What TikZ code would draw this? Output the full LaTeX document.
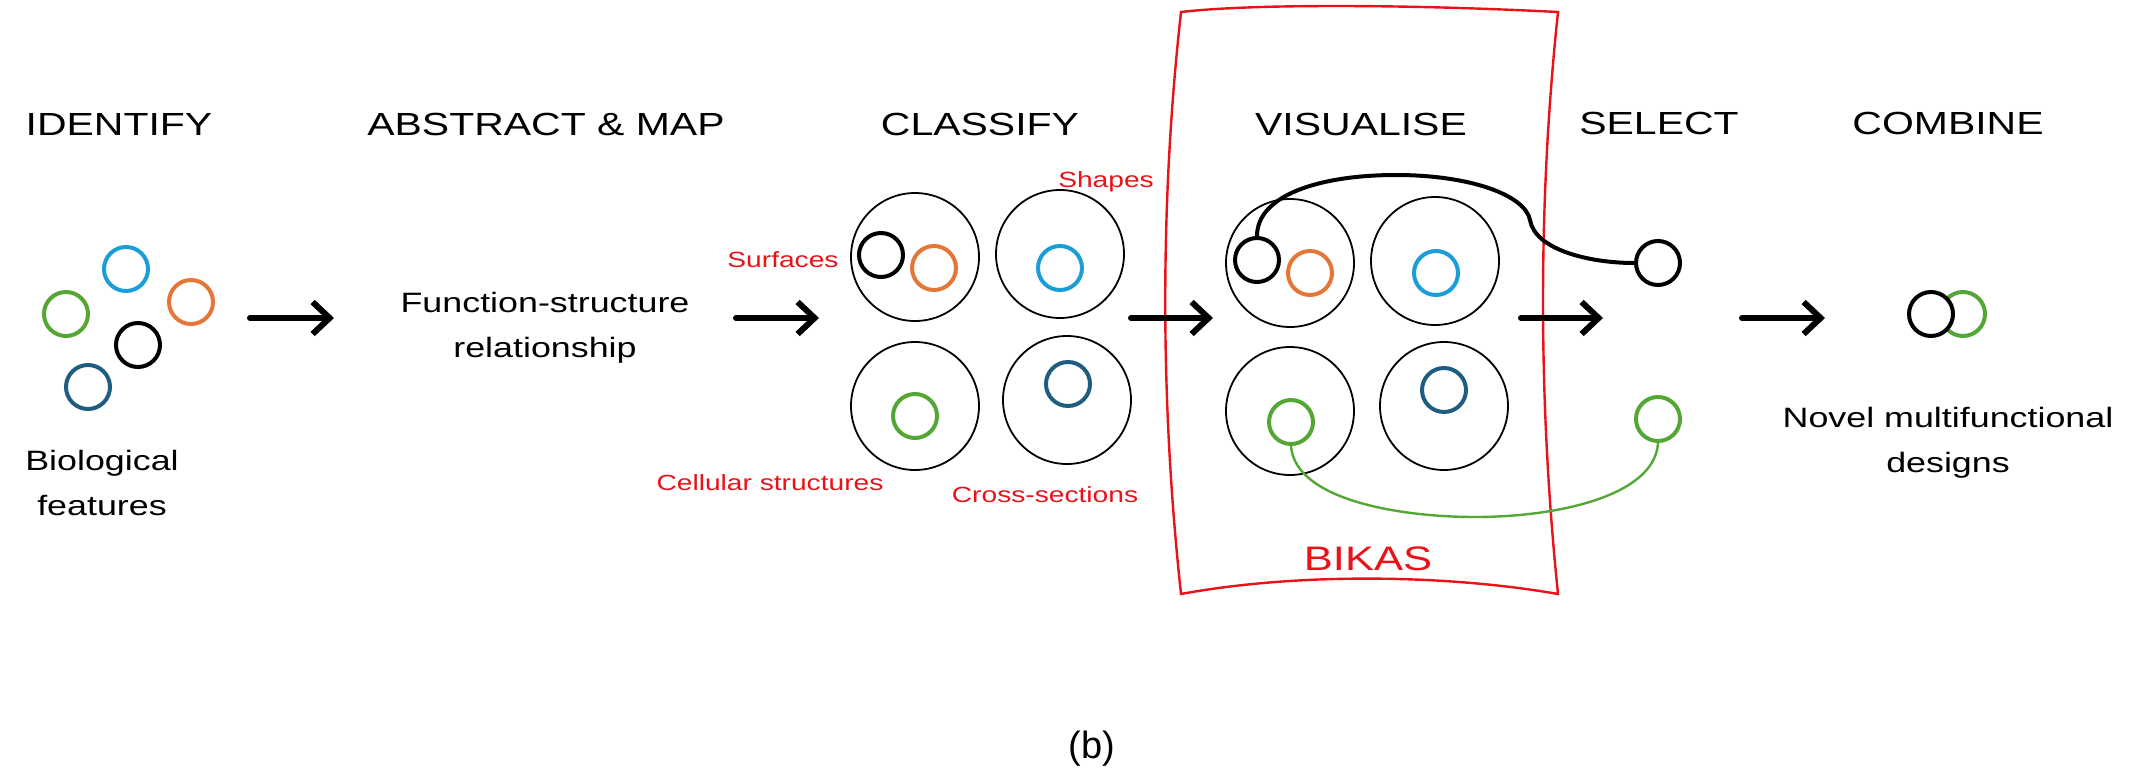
\documentclass[tikz,border=0pt]{standalone}
\usepackage{fontspec}
\setmainfont{Liberation Sans}
\newfontfamily\hand[FakeStretch=1.28]{Liberation Sans}
\usetikzlibrary{arrows.meta}
\definecolor{bioGreen}{RGB}{84,167,52}
\definecolor{bioCyan}{RGB}{27,158,215}
\definecolor{bioOrange}{RGB}{228,118,56}
\definecolor{bioNavy}{RGB}{30,92,128}
\definecolor{bioRed}{RGB}{232,18,24}
\begin{document}
\begin{tikzpicture}[x=0.5pt,y=-0.5pt,
		ring/.style={circle, draw=#1, line width=2pt, minimum size=22pt, inner sep=0pt},
		cell/.style={circle, draw, line width=0.9pt, minimum size=64pt, inner sep=0pt},
		head/.style={anchor=base, inner sep=0pt, font=\hand\fontsize{16}{19}\selectfont},
		body/.style={align=center, inner sep=0pt, font=\hand\fontsize{14}{22.5}\selectfont},
		tag/.style={anchor=base, inner sep=0pt, text=bioRed, font=\hand\fontsize{11}{13}\selectfont},
		flow/.style={line width=3pt, line cap=round, line join=round, -{Straight Barb[length=8.5pt,width=16pt]}}]
	\useasboundingbox (0,0) rectangle (2142,776);
	\draw[bioRed, line width=1.2pt] (1181,12) .. controls (1250,4) and (1400,4) .. (1558,12) .. controls (1538,200) and (1538,400) .. (1558,594) .. controls (1450,575) and (1300,572) .. (1181,594) .. controls (1160,400) and (1160,200) .. cycle;
	\node[head] (hId) at (119,135) {IDENTIFY};
	\node[head] (hAb) at (546,135) {ABSTRACT \& MAP};
	\node[head] (hCl) at (980,135) {CLASSIFY};
	\node[head] (hVi) at (1361,135) {VISUALISE};
	\node[head] (hSe) at (1659,134) {SELECT};
	\node[head] (hCo) at (1948,134) {COMBINE};
	\node[ring=bioGreen] (idG) at (66,314) {};
	\node[ring=bioCyan] (idC) at (126,269) {};
	\node[ring=bioOrange] (idO) at (191,302) {};
	\node[ring=black] (idK) at (138,345) {};
	\node[ring=bioNavy] (idN) at (88,387) {};
	\node[body] (bio) at (102,483) {Biological\\features};
	\node[body] (fsr) at (545,328) {Function-structure\\relationship};
	\node[cell] (cTL) at (915,257) {};
	\node[cell] (cTR) at (1060,254) {};
	\node[cell] (cBL) at (915,406) {};
	\node[cell] (cBR) at (1067,400) {};
	\node[ring=black] (cK) at (881,255) {};
	\node[ring=bioOrange] (cO) at (934,268) {};
	\node[ring=bioCyan] (cC) at (1060,268) {};
	\node[ring=bioGreen] (cG) at (915,416) {};
	\node[ring=bioNavy] (cN) at (1068,384) {};
	\node[tag] (tSu) at (783,267) {Surfaces};
	\node[tag] (tSh) at (1106,187) {Shapes};
	\node[tag] (tCe) at (770,490) {Cellular structures};
	\node[tag] (tCr) at (1045,502) {Cross-sections};
	\node[cell] (vTL) at (1290,263) {};
	\node[cell] (vTR) at (1435,261) {};
	\node[cell] (vBL) at (1290,411) {};
	\node[cell] (vBR) at (1444,406) {};
	\node[ring=black] (vK) at (1257,260) {};
	\node[ring=bioOrange] (vO) at (1310,273) {};
	\node[ring=bioCyan] (vC) at (1436,273) {};
	\node[ring=bioGreen] (vG) at (1291,422) {};
	\node[ring=bioNavy] (vN) at (1444,390) {};
	\node[anchor=base, inner sep=0pt, text=bioRed, font=\hand\fontsize{17}{20}\selectfont] (bikas) at (1368,570) {BIKAS};
	\node[ring=black] (sK) at (1658,263) {};
	\node[ring=bioGreen] (sG) at (1658,419) {};
	\node[ring=bioGreen] (mG) at (1963,314) {};
	\node[ring=black, fill=white] (mK) at (1931,314) {};
	\node[body] (nmd) at (1948,443) {Novel multifunctional\\designs};
	\draw[line width=2pt] (vK.north) .. controls (1257,195) and (1320,175) .. (1396,175) .. controls (1470,175) and (1525,195) .. (1530,220) .. controls (1535,250) and (1590,263) .. (sK.west);
	\draw[bioGreen, line width=1.2pt] (vG.south) .. controls (1295,500) and (1400,517) .. (1475,517) .. controls (1560,517) and (1655,495) .. (sG.south);
	\foreach \i/\xa/\xb in {1/250/334, 2/736/819, 3/1131/1213, 4/1521/1603, 5/1742/1825} {
		\coordinate (s\i) at (\xa,318);
		\coordinate (e\i) at (\xb,318);
		\draw[flow] (s\i) -- (e\i);
	}
	\node[font=\fontsize{19}{22}\selectfont] (lbl) at (1092,749) {(b)};
\end{tikzpicture}
\end{document}
